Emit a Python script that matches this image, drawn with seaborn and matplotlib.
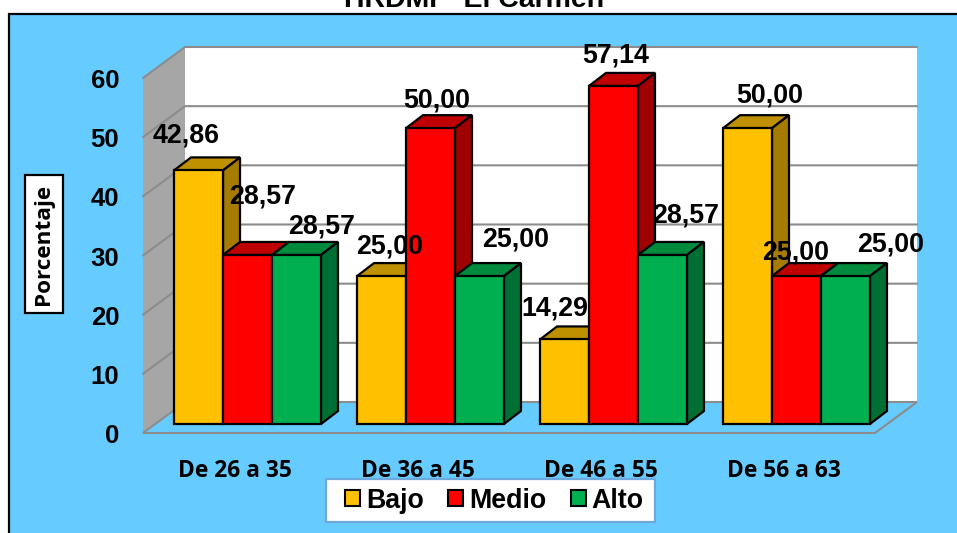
import matplotlib
matplotlib.use("Agg")
import matplotlib.pyplot as plt
from matplotlib.patches import Polygon, Rectangle
from matplotlib.transforms import Affine2D, IdentityTransform
import numpy as np
import pandas as pd
import seaborn as sns

categories = ["De 26 a 35", "De 36 a 45", "De 46 a 55", "De 56 a 63"]
series_names = ["Bajo", "Medio", "Alto"]
bajo = [42.86, 25.00, 14.29, 50.00]
medio = [28.57, 50.00, 57.14, 25.00]
alto = [28.57, 25.00, 28.57, 25.00]
y_ticks = [0, 10, 20, 30, 40, 50, 60]
title = "HRDMP  El Carmen"
y_label = "Porcentaje"

# styling
front_colors = ["#FFC000", "#FF0000", "#00B050"]
top_colors = ["#BF9000", "#C00000", "#008A3E"]
side_colors = ["#A67C00", "#A00000", "#006F33"]
BLUE = "#66CCFF"
GRID = "#8C8C8C"
ARIAL = "Liberation Sans"
CALIBRI = "Open Sans"
W, H, DPI = 957, 533, 100
BASE = 424   # image row of y=0 on the bar plane
# px offsets of each data label from its bar's top centre, order: bar left to right
label_offsets = [(-12, 35), (15, 58), (25, 28),
                 (8.5, 30), (6.5, 28), (36, 37),
                 (-9.5, 31), (2.5, 30), (23, 39),
                 (22, 33), (-0.5, 24), (45.5, 32)]

sns.set_theme(style="white")
plt.rcParams["font.family"] = [ARIAL, "DejaVu Sans"]

df = pd.DataFrame({
    "Grupo": categories * 3,
    "Nivel": sum(([n] * len(categories) for n in series_names), []),
    "Porcentaje": bajo + medio + alto,
})

fig = plt.figure(figsize=(W / DPI, H / DPI), dpi=DPI, facecolor="white")
fig.add_artist(Rectangle((9, -6), W, H - 14 + 6, transform=IdentityTransform(),
                         facecolor=BLUE, edgecolor="black", linewidth=1.6, zorder=-5))
ax = fig.add_axes([156 / W, (H - BASE) / H, 732 / W, 355 / H])
ax.patch.set_visible(False)

sns.barplot(data=df, x="Grupo", y="Porcentaje", hue="Nivel",
            order=categories, hue_order=series_names,
            palette=front_colors, width=0.803, gap=0, dodge=True,
            edgecolor="black", linewidth=1.6, saturation=1, ax=ax, legend=True)
ax.set_xlim(-0.5, 3.5)
ax.set_ylim(0, 60)
sns.despine(ax=ax, left=True, bottom=True)


def px(x, y, dx=0, dy=0):
    p = ax.transData.transform((x, y))
    return (p[0] + dx, p[1] + dy)


def poly(points, face, edge="none", lw=0, z=1):
    ax.add_patch(Polygon(points, closed=True, transform=IdentityTransform(),
                         facecolor=face, edgecolor=edge, linewidth=lw, zorder=z,
                         clip_on=False, joinstyle="miter"))


# walls and floor
FX, FY = -13, -9   # front plane
BX, BY = 29, 22    # back plane
x0, x1 = ax.get_xlim()
ymax = y_ticks[-1]
poly([px(x0, 0, BX, BY), px(x1, 0, BX, BY), px(x1, ymax, BX, BY), px(x0, ymax, BX, BY)], "white", z=0.1)
poly([px(x0, 0, FX, FY), px(x0, 0, BX, BY), px(x0, ymax, BX, BY), px(x0, ymax, FX, FY)], "#A6A6A6", z=0.2)
poly([px(x0, 0, FX, FY), px(x1, 0, FX, FY), px(x1, 0, BX, BY), px(x0, 0, BX, BY)], BLUE, GRID, 1.5, z=0.3)
for t in y_ticks[1:]:
    a, b, c = px(x0, t, FX, FY), px(x0, t, BX, BY), px(x1, t, BX, BY)
    ax.plot([a[0], b[0], c[0]], [a[1], b[1], c[1]], color=GRID, lw=1.5,
            transform=IdentityTransform(), clip_on=False, zorder=0.4,
            solid_joinstyle="miter")

# 3D extrusion of the seaborn bars, left to right
DX, DY = 17, 13
bars = sorted([p for p in ax.patches if isinstance(p, Rectangle) and p.get_height() > 0],
              key=lambda p: p.get_x())
for i, bar in enumerate(bars):
    c = i % 3
    z = 2 + i
    l, r, v = bar.get_x(), bar.get_x() + bar.get_width(), bar.get_height()
    poly([px(l, v), px(r, v), px(r, v, DX, DY), px(l, v, DX, DY)], top_colors[c], "black", 1.6, z)
    poly([px(r, 0), px(r, 0, DX, DY), px(r, v, DX, DY), px(r, v)], side_colors[c], "black", 1.6, z)
    bar.set_zorder(z + 0.5)
    bar.set_clip_on(False)
    ox, oy = label_offsets[i]
    ax.annotate(f"{v:.2f}".replace(".", ","), xy=((l + r) / 2, v), xytext=(ox, oy),
                textcoords="offset pixels", ha="center", va="center",
                fontsize=19.3, fontweight="bold", color="black",
                family=ARIAL, zorder=100, annotation_clip=False)

# axes text
ax.set_yticks(y_ticks)
ax.set_xticks(range(len(categories)))
ax.set_xticklabels(categories)
ax.tick_params(axis="y", length=0, pad=26.5, labelsize=18.5)
ax.tick_params(axis="x", length=0, pad=25, labelsize=16.4)
for lab in ax.get_yticklabels():
    lab.set_fontweight("bold")
    lab.set_family(ARIAL)
    lab.set_color("black")
    lab.set_transform(lab.get_transform() + Affine2D().translate(0, -9.5))
for lab in ax.get_xticklabels():
    lab.set_fontweight("bold")
    lab.set_family(CALIBRI)
    lab.set_color("black")
    lab.set_transform(lab.get_transform() + Affine2D().translate(-13, 0))

ax.set_xlabel("")
ax.set_ylabel(y_label, fontsize=16.2, fontweight="bold", family=CALIBRI, color="black",
              va="center", ha="center",
              bbox=dict(boxstyle="square,pad=0.36", facecolor="white", edgecolor="black", linewidth=1.6))
ax.yaxis.set_label_coords((44 - 156) / 732, (BASE - 244) / 355)

ax.set_title(title, fontsize=20.5, fontweight="bold", family=ARIAL, color="black",
             x=(474 - 156) / 732, y=(BASE - 7) / 355, pad=0)

# legend
fig.add_artist(Rectangle((326, H - 522), 329, 43, transform=IdentityTransform(),
                         facecolor="white", edgecolor="#6FA8DC", linewidth=1.6, zorder=5))
handles = ax.get_legend().legend_handles
leg = ax.legend(handles=handles, labels=series_names, ncol=3, loc="center",
                bbox_to_anchor=(494.5 / W, (H - 500.5) / H),
                bbox_transform=fig.transFigure,
                prop=dict(family=ARIAL, weight="bold", size=19.3), labelcolor="black",
                frameon=False, handlelength=0.56, handleheight=0.56, handletextpad=0.23,
                columnspacing=0.9, borderpad=0, borderaxespad=0)
leg.set_zorder(200)
ax.set_zorder(10)
for h, col in zip(leg.legend_handles, front_colors):
    h.set_facecolor(col)
    h.set_edgecolor("black")
    h.set_linewidth(1.5)

fig.savefig("out.png", dpi=DPI, facecolor="white")
